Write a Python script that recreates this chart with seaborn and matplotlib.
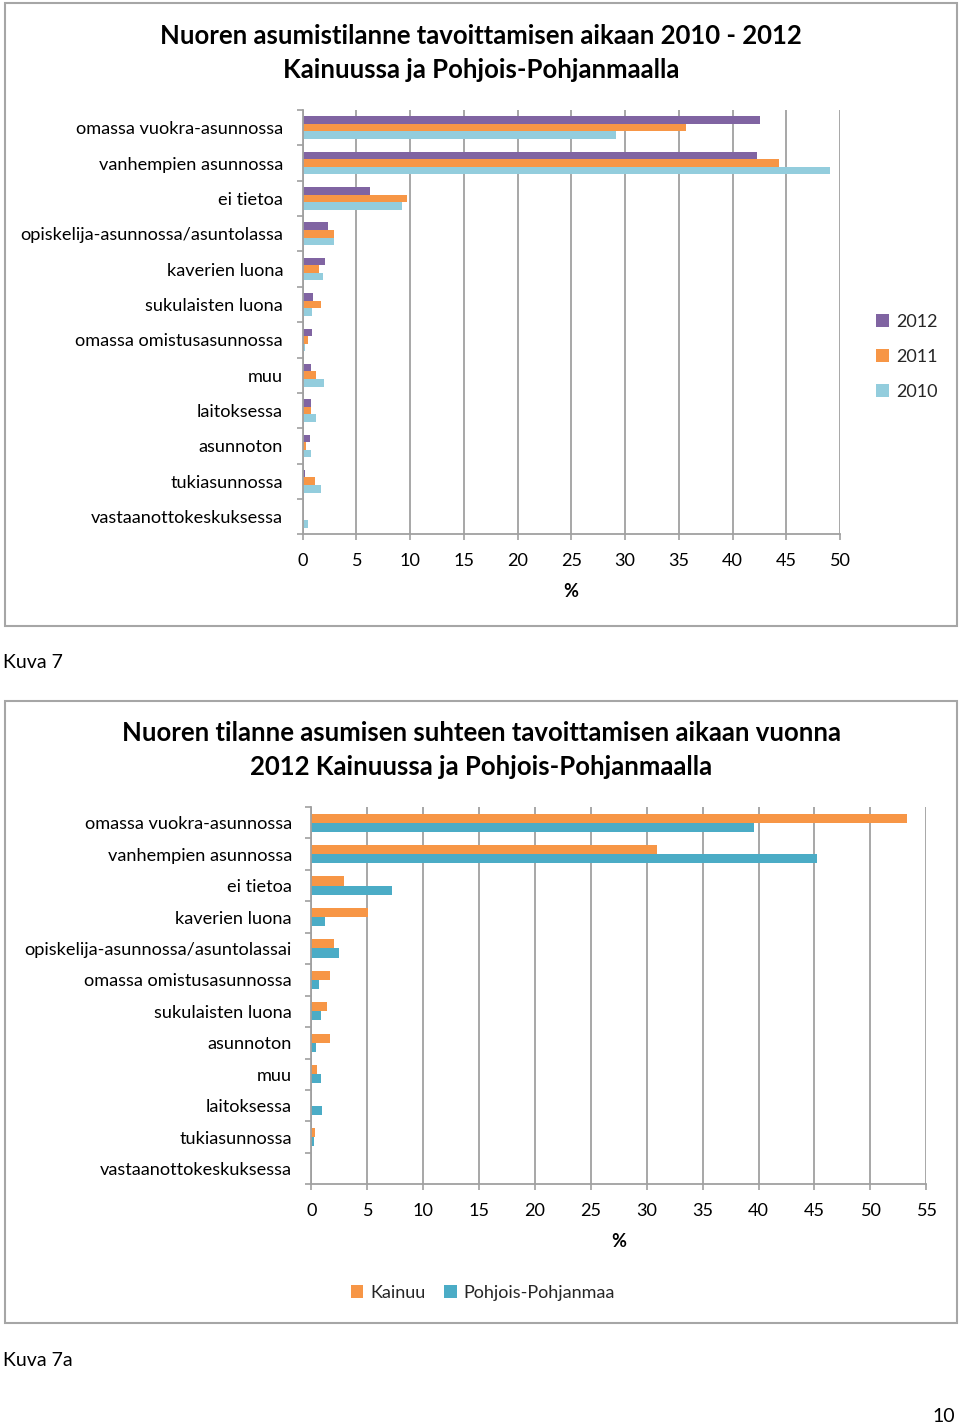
import numpy as np
import pandas as pd
import matplotlib
matplotlib.use("Agg")
import matplotlib.pyplot as plt
import seaborn as sns
from matplotlib.patches import Rectangle, Patch

# ---------------- data ----------------
cats1 = ["omassa vuokra-asunnossa", "vanhempien asunnossa", "ei tietoa",
         "opiskelija-asunnossa/asuntolassa", "kaverien luona", "sukulaisten luona",
         "omassa omistusasunnossa", "muu", "laitoksessa", "asunnoton",
         "tukiasunnossa", "vastaanottokeskuksessa"]
years = ["2012", "2011", "2010"]
v2012 = [42.6, 42.3, 6.3, 2.4, 2.1, 1.0, 0.9, 0.8, 0.8, 0.7, 0.25, 0.0]
v2011 = [35.7, 44.3, 9.7, 2.9, 1.55, 1.7, 0.55, 1.3, 0.75, 0.35, 1.15, 0.05]
v2010 = [29.2, 49.1, 9.3, 2.95, 1.9, 0.9, 0.25, 2.0, 1.3, 0.8, 1.75, 0.5]

cats2 = ["omassa vuokra-asunnossa", "vanhempien asunnossa", "ei tietoa",
         "kaverien luona", "opiskelija-asunnossa/asuntolassai",
         "omassa omistusasunnossa", "sukulaisten luona", "asunnoton", "muu",
         "laitoksessa", "tukiasunnossa", "vastaanottokeskuksessa"]
regions = ["Kainuu", "Pohjois-Pohjanmaa"]
kainuu = [53.3, 30.9, 2.9, 5.1, 2.0, 1.7, 1.4, 1.7, 0.55, 0.0, 0.3, 0.0]
pohjois = [39.6, 45.2, 7.2, 1.2, 2.5, 0.7, 0.9, 0.4, 0.85, 1.0, 0.25, 0.0]

title1 = "Nuoren asumistilanne tavoittamisen aikaan 2010 - 2012\nKainuussa ja Pohjois-Pohjanmaalla"
title2 = "Nuoren tilanne asumisen suhteen tavoittamisen aikaan vuonna\n2012 Kainuussa ja Pohjois-Pohjanmaalla"

col_years = ["#8064A2", "#F79646", "#93CDDD"]
col_regions = ["#F79646", "#4BACC6"]

df1 = pd.DataFrame({
    "cat": cats1 * 3,
    "year": [y for y in years for _ in cats1],
    "val": v2012 + v2011 + v2010,
})
df2 = pd.DataFrame({
    "cat": cats2 * 2,
    "reg": [r for r in regions for _ in cats2],
    "val": kainuu + pohjois,
})

# ---------------- figure ----------------
sns.set_theme(style="white")
plt.rcParams["font.family"] = ["Lato", "DejaVu Sans"]
W, H = 960, 1427
fig = plt.figure(figsize=(W / 100, H / 100), dpi=100)
fig.patch.set_facecolor("white")

def fx(x):
    return x / W

def fy(y):
    return 1 - y / H

GRID = "#A0A0A0"
TXT = "#000000"
FS = 13.1

def ax_rect(x0, x1, y0, y1):
    return [fx(x0), fy(y1), fx(x1) - fx(x0), fy(y0) - fy(y1)]

def style_axis(ax, xmax, ncat):
    ax.set_xlim(0, xmax)
    ax.set_xticks(np.arange(0, xmax + 0.1, 5))
    ax.set_ylim(ncat - 0.5, -0.5)
    ax.set_yticks(np.arange(-0.5, ncat, 1), minor=True)
    ax.grid(axis="x", color=GRID, linewidth=1.3)
    ax.grid(axis="y", visible=False)
    ax.set_axisbelow(True)
    for s in ["top", "right"]:
        ax.spines[s].set_visible(False)
    for s in ["left", "bottom"]:
        ax.spines[s].set_color(GRID)
        ax.spines[s].set_linewidth(1.3)
    ax.tick_params(axis="y", which="major", length=0, pad=14, labelsize=FS, labelcolor=TXT)
    ax.tick_params(axis="y", which="minor", length=4, width=1.2, color=GRID, left=True)
    ax.tick_params(axis="x", which="major", length=4, width=1.2, color=GRID, bottom=True,
                   pad=9.5, labelsize=FS, labelcolor=TXT)
    ax.set_ylabel("")
    ax.set_xlabel("%", fontsize=FS, fontweight="bold", color=TXT, labelpad=10)

# ---- chart 1 ----
ax1 = fig.add_axes(ax_rect(302.5, 840, 110, 534.3))
sns.barplot(data=df1, y="cat", x="val", hue="year", hue_order=years,
            palette=col_years, saturation=1, orient="h", width=0.64, linewidth=0,
            errorbar=None, legend=False, ax=ax1)
style_axis(ax1, 50, len(cats1))

fig.text(fx(481), fy(53), title1, ha="center", va="center", fontsize=18.5,
         fontweight="bold", color=TXT, linespacing=1.5)

handles1 = [Patch(facecolor=c, edgecolor="none", label=y) for c, y in zip(col_years, years)]
fig.legend(handles=handles1, loc="center left", bbox_to_anchor=(fx(860), fy(357)),
           frameon=False, fontsize=13, handlelength=0.7, handleheight=0.7,
           handletextpad=0.4, labelspacing=1.05)

# ---- chart 2 ----
ax2 = fig.add_axes(ax_rect(311.3, 926.2, 807, 1184.3))
sns.barplot(data=df2, y="cat", x="val", hue="reg", hue_order=regions,
            palette=col_regions, saturation=1, orient="h", width=0.58, linewidth=0,
            errorbar=None, legend=False, ax=ax2)
style_axis(ax2, 55, len(cats2))

fig.text(fx(481), fy(750), title2, ha="center", va="center", fontsize=18.5,
         fontweight="bold", color=TXT, linespacing=1.5)

handles2 = [Patch(facecolor=c, edgecolor="none", label=r) for c, r in zip(col_regions, regions)]
fig.legend(handles=handles2, loc="center", bbox_to_anchor=(fx(483), fy(1293)), ncol=2,
           frameon=False, fontsize=13, handlelength=0.7, handleheight=0.7,
           handletextpad=0.4, columnspacing=1.0)

# ---- frames and captions ----
for (y0, y1) in [(3, 626), (701, 1323)]:
    fig.add_artist(Rectangle((fx(5), fy(y1)), fx(957) - fx(5), fy(y0) - fy(y1),
                             transform=fig.transFigure, fill=False,
                             edgecolor="#A6A6A6", linewidth=1.5))

fig.text(fx(3), fy(663), "Kuva 7", ha="left", va="center", fontsize=14, color=TXT)
fig.text(fx(3), fy(1361), "Kuva 7a", ha="left", va="center", fontsize=14, color=TXT)
fig.text(fx(955), fy(1417), "10", ha="right", va="center", fontsize=14, color=TXT)

fig.savefig("out.png", dpi=100, facecolor="white")
